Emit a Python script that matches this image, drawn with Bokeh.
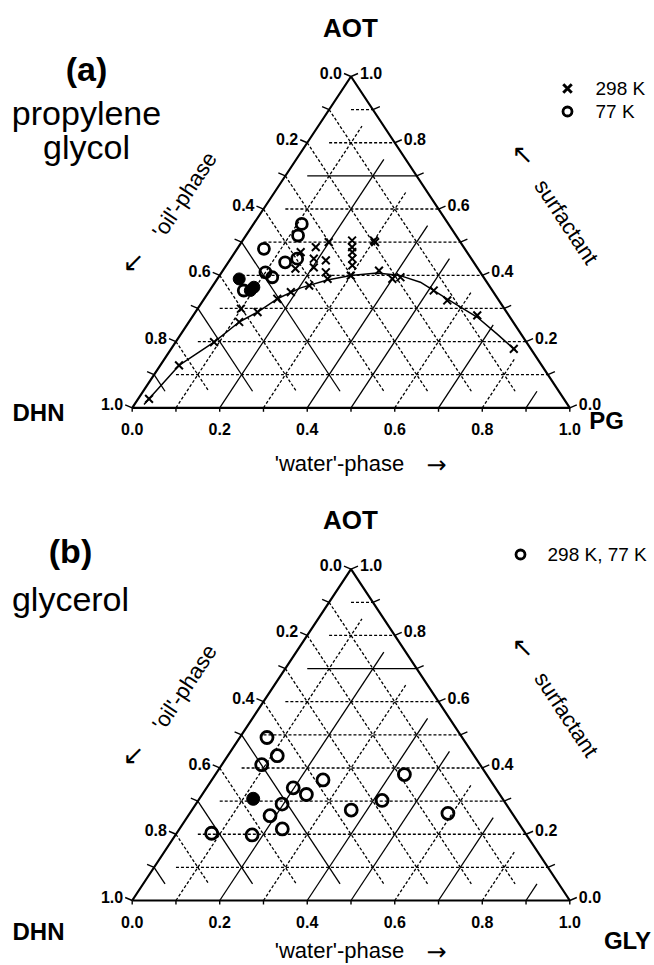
import numpy as np
from bokeh.plotting import figure
from bokeh.layouts import column
from bokeh.models import Range1d
from bokeh.core.properties import value
from bokeh.embed import file_html
from bokeh.resources import INLINE

# ---------------- data: compositions (weight fractions) ----------------
# each point given as ('water'-phase fraction, AOT fraction); 'oil'-phase = 1 - both
# (a) propylene glycol, 298 K
a298_water = [0.025, 0.043, 0.088, 0.115, 0.099, 0.142, 0.167, 0.188, 0.220, 0.252,
              0.300, 0.357, 0.400, 0.416, 0.512, 0.558, 0.649, 0.783,
              0.150, 0.177, 0.199, 0.190, 0.220, 0.203, 0.238, 0.163,
              0.250, 0.260, 0.268, 0.278, 0.288, 0.300, 0.305]
a298_aot = [0.027, 0.128, 0.198, 0.259, 0.299, 0.289, 0.329, 0.349, 0.369, 0.389,
            0.399, 0.414, 0.389, 0.394, 0.354, 0.324, 0.279, 0.178,
            0.470, 0.485, 0.500, 0.450, 0.445, 0.424, 0.409, 0.420,
            0.505, 0.485, 0.470, 0.450, 0.430, 0.505, 0.500]
# (a) propylene glycol, 77 K (open) and highlighted (filled)
a77_water = [0.110, 0.119, 0.061, 0.130, 0.152, 0.100, 0.123, 0.078]
a77_aot = [0.555, 0.520, 0.480, 0.439, 0.450, 0.409, 0.394, 0.354]
a_fill_water = [0.050, 0.093, 0.096]
a_fill_aot = [0.389, 0.354, 0.364]
# (a) phase boundary curve
a_curve_water = [0.022, 0.025, 0.043, 0.088, 0.115, 0.142, 0.167, 0.204, 0.253,
                 0.300, 0.356, 0.413, 0.469, 0.555, 0.651, 0.722, 0.790]
a_curve_aot = [0.010, 0.027, 0.128, 0.198, 0.259, 0.289, 0.329, 0.362, 0.386,
               0.399, 0.407, 0.399, 0.379, 0.329, 0.274, 0.223, 0.173]
# (b) glycerol, 298 K and 77 K
b_water = [0.062, 0.113, 0.091, 0.254, 0.198, 0.238, 0.197, 0.187, 0.235, 0.175,
           0.080, 0.364, 0.420, 0.432, 0.590]
b_aot = [0.492, 0.437, 0.410, 0.364, 0.340, 0.320, 0.291, 0.256, 0.216, 0.198,
         0.203, 0.273, 0.302, 0.380, 0.263]
b_fill_water = [0.123]
b_fill_aot = [0.307]

tick_values = [0.0, 0.1, 0.2, 0.3, 0.4, 0.5, 0.6, 0.7, 0.8, 0.9, 1.0]
label_values = [0.0, 0.2, 0.4, 0.6, 0.8, 1.0]
grid_levels = [0.1, 0.2, 0.3, 0.4, 0.5, 0.6, 0.7, 0.8, 0.9]
solid_aot = [0.7]
solid_water = [0.2, 0.4, 0.5, 0.7, 0.9]
solid_oil = [0.5, 0.7, 0.9]

# ---------------- layout constants (pixels) ----------------
SX, SY = 437.6, 331.3      # pixels per unit along base / along height
X0 = 131.7                 # page x of the DHN corner
W = 654
FONT = "Liberation Sans"
GAP = 0.05


def cart(w, a):
    w = np.asarray(w, dtype=float)
    a = np.asarray(a, dtype=float)
    return w + a / 2.0, a


def make_panel(height, top_page, base_page, water_dy=56):
    p = figure(width=W, height=height, output_backend="svg", toolbar_location=None,
               x_range=Range1d((0 - X0) / SX, (W - X0) / SX),
               y_range=Range1d((base_page - (top_page + height)) / SY, (base_page - top_page) / SY),
               x_axis_type=None, y_axis_type=None, min_border=0,
               outline_line_color=None, background_fill_color="white",
               border_fill_color="white")
    p.xgrid.visible = False
    p.ygrid.visible = False

    def pt(px, py):
        return (px - X0) / SX, (base_page - py) / SY

    def txt(px, py, s, size, bold=False, align="center", angle=0, font=FONT):
        x, y = pt(px, py)
        p.text(x=[x], y=[y], text=[s], text_font=value(font),
               text_font_size=f"{size}px",
               text_font_style="bold" if bold else "normal",
               text_align=align, text_baseline="middle",
               angle=angle, angle_units="deg", text_color="black")

    # grid lines
    sol_x, sol_y, das_x, das_y = [], [], [], []
    for g in grid_levels:
        # constant AOT
        xs, ys = cart([GAP, 1 - g], [g, g])
        if any(abs(g - s) < 1e-9 for s in solid_aot):
            sol_x.append(list(xs)); sol_y.append(list(ys))
        else:
            das_x.append(list(xs)); das_y.append(list(ys))
        # constant 'oil'-phase
        xs, ys = cart([0, 1 - g - GAP], [1 - g, GAP])
        if any(abs(g - s) < 1e-9 for s in solid_oil):
            sol_x.append(list(xs)); sol_y.append(list(ys))
        else:
            das_x.append(list(xs)); das_y.append(list(ys))
        # constant 'water'-phase
        xs, ys = cart([g, g], [0, 1 - g - GAP])
        if any(abs(g - s) < 1e-9 for s in solid_water):
            sol_x.append(list(xs)); sol_y.append(list(ys))
        else:
            das_x.append(list(xs)); das_y.append(list(ys))
    p.multi_line(sol_x, sol_y, line_color="black", line_width=1.3)
    p.multi_line(das_x, das_y, line_color="black", line_width=1.3, line_dash="3 2")

    # triangle
    tx, ty = cart([0, 0, 1, 0], [0, 1, 0, 0])
    p.line(tx, ty, line_color="black", line_width=2.2)

    # ticks
    dx, dy, db = 7 / SX, 3 / SY, 4 / SY
    tk_x, tk_y = [], []
    for t in tick_values:
        tk_x.append([t, t]); tk_y.append([0, -db])
        lx, ly = cart([0], [t])
        tk_x.append([lx[0], lx[0] - dx]); tk_y.append([ly[0], ly[0] + dy])
        rx, ry = cart([1 - t], [t])
        tk_x.append([rx[0], rx[0] + dx]); tk_y.append([ry[0], ry[0] + dy])
    p.multi_line(tk_x, tk_y, line_color="black", line_width=1.4)

    # tick labels
    for t in label_values:
        s = f"{t:.1f}"
        p.text(x=[t], y=[-21 / SY], text=[s], text_font=value(FONT),
               text_font_size="16px", text_font_style="bold",
               text_align="center", text_baseline="middle")
        lx, ly = cart([0], [t])
        p.text(x=[lx[0] - 9 / SX], y=[ly[0] + 4 / SY], text=[f"{1 - t:.1f}"],
               text_font=value(FONT), text_font_size="16px", text_font_style="bold",
               text_align="right", text_baseline="middle")
        rx, ry = cart([1 - t], [t])
        p.text(x=[rx[0] + 9 / SX], y=[ry[0] + 4 / SY], text=[s],
               text_font=value(FONT), text_font_size="16px", text_font_style="bold",
               text_align="left", text_baseline="middle")

    # axis titles
    ap = base_page - 331.3  # apex page y
    txt(350, ap - 49, "AOT", 26, bold=True)
    txt(184, base_page - 213, "'oil'-phase", 22, angle=56.5)
    txt(133, base_page - 146, "↙", 26, font="DejaVu Sans")
    txt(566, base_page - 186, "surfactant", 22, angle=-56.5)
    txt(522, base_page - 254, "↖", 26, font="DejaVu Sans")
    txt(339, base_page + water_dy, "'water'-phase", 22)
    txt(436, base_page + water_dy + 1, "→", 24, font="DejaVu Sans")
    return p, txt


# ---------------- panel (a) ----------------
pa, txt_a = make_panel(490, 0, 407.3)
cx, cy = cart(a_curve_water, a_curve_aot)
pa.line(cx, cy, line_color="black", line_width=1.5)
x, y = cart(a298_water, a298_aot)
pa.scatter(x, y, marker="x", size=11, line_color="black", line_width=2.0)
x, y = cart(a77_water, a77_aot)
pa.scatter(x, y, marker="circle", size=11, line_color="black", line_width=2.8, fill_color=None)
x, y = cart(a_fill_water, a_fill_aot)
pa.scatter(x, y, marker="circle", size=12, line_color="black", fill_color="black")
txt_a(86, 68, "(a)", 34, bold=True)
txt_a(86, 112, "propylene", 34)
txt_a(86, 146, "glycol", 34)
txt_a(38, 412, "DHN", 24, bold=True)
txt_a(606, 420, "PG", 24, bold=True)
# legend
lx0, ly0 = (567 - X0) / SX, (407.3 - 88) / SY
lx1, ly1 = (567 - X0) / SX, (407.3 - 111) / SY
pa.scatter([lx0], [ly0], marker="x", size=12, line_color="black", line_width=3)
pa.scatter([lx1], [ly1], marker="circle", size=9, line_color="black", line_width=2.8, fill_color=None)
txt_a(595, 88, "298 K", 19, align="left")
txt_a(595, 111, "77 K", 19, align="left")

# ---------------- panel (b) ----------------
pb, txt_b = make_panel(475, 490, 900.0, water_dy=50)
x, y = cart(b_water, b_aot)
pb.scatter(x, y, marker="circle", size=12, line_color="black", line_width=2.8, fill_color=None)
x, y = cart(b_fill_water, b_fill_aot)
pb.scatter(x, y, marker="circle", size=13, line_color="black", fill_color="black")
txt_b(70, 550, "(b)", 34, bold=True)
txt_b(70, 598, "glycerol", 34)
txt_b(38, 931, "DHN", 24, bold=True)
txt_b(627, 940, "GLY", 24, bold=True)
bx, by = (520 - X0) / SX, (900 - 554) / SY
pb.scatter([bx], [by], marker="circle", size=9, line_color="black", line_width=2.8, fill_color=None)
txt_b(547, 554, "298 K, 77 K", 19, align="left")

layout = column(pa, pb, spacing=0)
open("out.html", "w").write(file_html(layout, INLINE))
